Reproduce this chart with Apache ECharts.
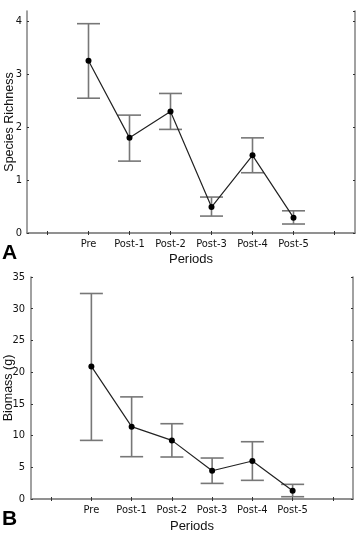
<!DOCTYPE html>
<html>
<head>
<meta charset="utf-8">
<script src="https://cdn.jsdelivr.net/npm/echarts@6/dist/echarts.min.js"></script>
<style>html,body{margin:0;padding:0;background:#fff;}#c{width:360px;height:537px;}</style>
</head>
<body>
<div id="c"></div>
<script>
const periods = ['Pre','Post-1','Post-2','Post-3','Post-4','Post-5'];
const richMean = [3.26,1.80,2.30,0.49,1.47,0.29];
const richLow  = [2.55,1.36,1.96,0.32,1.14,0.17];
const richHigh = [3.96,2.23,2.64,0.68,1.80,0.42];
const bioMean = [20.9,11.4,9.24,4.46,5.99,1.31];
const bioLow  = [9.24,6.67,6.62,2.46,2.94,0.36];
const bioHigh = [32.4,16.1,11.87,6.46,9.03,2.31];

const axisCats = [''].concat(periods).concat(['']);
const FONT = '"Liberation Sans Narrow","DejaVu Sans Condensed","Liberation Sans",Arial,sans-serif';
const TFONT = '"Liberation Sans",Arial,sans-serif';
const FRAME = '#8a8a8a';

function errItem(params, api){
  const lo = api.coord([api.value(0), api.value(1)]);
  const hi = api.coord([api.value(0), api.value(2)]);
  const h = 11.5;
  const st = {stroke:'#777', lineWidth:1.6};
  return {type:'group', children:[
    {type:'line', shape:{x1:lo[0],y1:lo[1],x2:hi[0],y2:hi[1]}, style:st},
    {type:'line', shape:{x1:lo[0]-h,y1:lo[1],x2:lo[0]+h,y2:lo[1]}, style:st},
    {type:'line', shape:{x1:hi[0]-h,y1:hi[1],x2:hi[0]+h,y2:hi[1]}, style:st}
  ]};
}

function xAxes(gi, nameGap){
  return [
    {type:'category', gridIndex:gi, data:axisCats, boundaryGap:true, position:'bottom',
     axisLine:{lineStyle:{color:FRAME,width:1.6}},
     axisTick:{show:true, alignWithLabel:true, interval:0, inside:true, length:2, lineStyle:{color:'#333'}},
     axisLabel:{color:'#111', fontFamily:FONT, fontSize:11, margin:6, interval:0},
     name:'Periods', nameLocation:'middle', nameGap:nameGap, nameMoveOverlap:false,
     nameTextStyle:{color:'#111', fontFamily:TFONT, fontSize:13}},
    {type:'category', gridIndex:gi, data:axisCats, boundaryGap:true, position:'top',
     axisLine:{lineStyle:{color:FRAME,width:1.6}},
     axisTick:{show:true, alignWithLabel:true, interval:0, inside:true, length:2, lineStyle:{color:'#333'}},
     axisLabel:{show:false}}
  ];
}
function yAxes(gi, max, interval, name, nameGap, margin){
  return [
    {type:'value', gridIndex:gi, min:0, max:max, interval:interval, position:'left',
     axisLine:{show:true, lineStyle:{color:FRAME,width:1.6}},
     axisTick:{show:true, inside:true, length:2, lineStyle:{color:'#333'}},
     splitLine:{show:false},
     axisLabel:{color:'#111', fontFamily:FONT, fontSize:11, margin:margin, showMaxLabel: max % interval === 0},
     name:name, nameLocation:'middle', nameGap:nameGap, nameRotate:90, nameMoveOverlap:false,
     nameTextStyle:{color:'#111', fontFamily:TFONT, fontSize:12.5}},
    {type:'value', gridIndex:gi, min:0, max:max, interval:interval, position:'right',
     axisLine:{show:true, lineStyle:{color:FRAME,width:1.6}},
     axisTick:{show:true, inside:true, length:2, lineStyle:{color:'#333'}},
     splitLine:{show:false}, axisLabel:{show:false}}
  ];
}

function errData(lo, hi){ return periods.map((p,i)=>[i+1, lo[i], hi[i]]); }
function lineData(m){ return periods.map((p,i)=>[p, m[i]]); }

const chart = echarts.init(document.getElementById('c'), null, {renderer:'canvas'});
chart.setOption({
  animation:false,
  backgroundColor:'#fff',
  grid:[
    {left:27, top:11, width:328, height:222, containLabel:false, outerBoundsMode:'none'},
    {left:31, top:277, width:322, height:222, containLabel:false, outerBoundsMode:'none'}
  ],
  xAxis: xAxes(0, 20).concat(xAxes(1, 21)),
  yAxis: yAxes(0, 4.2, 1, 'Species Richness', 11, 5).concat(yAxes(1, 35, 5, 'Biomass (g)', 16, 6)),
  graphic:[
    {type:'text', left:2, top:243, style:{text:'A', font:'bold 21px "Liberation Sans",Arial,sans-serif', fill:'#000'}},
    {type:'text', left:2, top:509, style:{text:'B', font:'bold 21px "Liberation Sans",Arial,sans-serif', fill:'#000'}}
  ],
  series:[
    {type:'custom', xAxisIndex:0, yAxisIndex:0, renderItem:errItem, data:errData(richLow, richHigh), z:1},
    {type:'line', xAxisIndex:0, yAxisIndex:0, data:lineData(richMean), symbol:'circle', symbolSize:6,
     itemStyle:{color:'#000'}, lineStyle:{color:'#222', width:1.2}, z:3},
    {type:'custom', xAxisIndex:2, yAxisIndex:2, renderItem:errItem, data:errData(bioLow, bioHigh), z:1},
    {type:'line', xAxisIndex:2, yAxisIndex:2, data:lineData(bioMean), symbol:'circle', symbolSize:6,
     itemStyle:{color:'#000'}, lineStyle:{color:'#222', width:1.2}, z:3}
  ]
});
</script>
</body>
</html>
